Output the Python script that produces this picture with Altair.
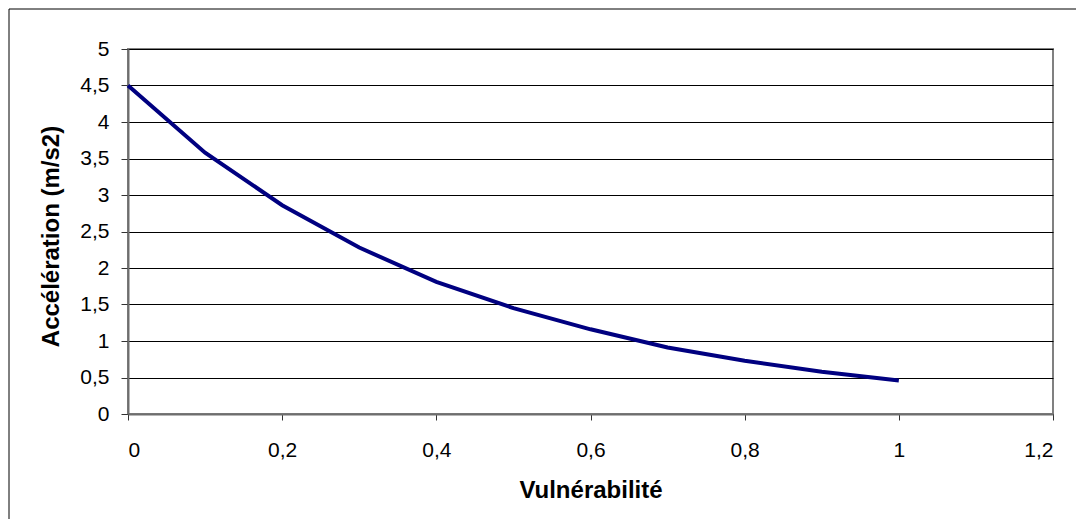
import altair as alt
import pandas as pd

# Data
vulnerabilite = [0.0, 0.1, 0.2, 0.3, 0.4, 0.5, 0.6, 0.7, 0.8, 0.9, 1.0]
acceleration = [4.5, 3.58, 2.86, 2.28, 1.81, 1.45, 1.16, 0.91, 0.73, 0.58, 0.46]

x_ticks = [0, 0.2, 0.4, 0.6, 0.8, 1.0, 1.2]
y_ticks = [0, 0.5, 1, 1.5, 2, 2.5, 3, 3.5, 4, 4.5, 5]

x_title = "Vulnérabilité"
y_title = "Accélération (m/s2)"

df = pd.DataFrame({"v": vulnerabilite, "a": acceleration})

FONT = "Liberation Sans"
comma = "replace(format(datum.value, '~g'), '.', ',')"

line = alt.Chart(df).mark_line(color="#000080", strokeWidth=4, clip=False).encode(
    x=alt.X(
        "v:Q",
        scale=alt.Scale(domain=[0, 1.2], nice=False, zero=False),
        axis=alt.Axis(
            values=x_ticks,
            labelExpr=comma,
            title=x_title,
            grid=False,
            tickSize=6,
            labelPadding=19,
            titleY=83,
            titleBaseline="alphabetic",
        ),
    ),
    y=alt.Y(
        "a:Q",
        scale=alt.Scale(domain=[0, 5], nice=False),
        axis=alt.Axis(
            values=y_ticks,
            labelExpr=comma,
            title=y_title,
            grid=True,
            tickSize=7,
            labelPadding=12,
            titleX=-70,
            titleY=187,
            titleBaseline="alphabetic",
        ),
    ),
)

one = alt.Data(values=[{}])
frame_left = alt.Chart(one).mark_rule(color="black", strokeWidth=1).encode(
    x=alt.value(-119), y=alt.value(-40), y2=alt.value(470)
)
frame_top = alt.Chart(one).mark_rule(color="black", strokeWidth=1).encode(
    x=alt.value(-119), x2=alt.value(948), y=alt.value(-40)
)

chart = (
    alt.layer(frame_left, frame_top, line)
    .properties(
        width=925,
        height=365,
        padding=0,
        background="white",
        autosize=alt.AutoSizeParams(type="pad"),
    )
    .configure_view(stroke="#808080", strokeWidth=2)
    .configure_axis(
        labelFont=FONT,
        labelFontSize=21,
        labelColor="black",
        titleFont=FONT,
        titleFontSize=24,
        titleFontWeight="bold",
        titleColor="black",
        domainColor="#6e6e6e",
        domainWidth=2,
        tickColor="#333333",
        tickWidth=1,
        gridColor="black",
        gridWidth=1,
        gridOpacity=1,
    )
)

chart.save("out.html", embed_options={"renderer": "svg", "actions": False})
